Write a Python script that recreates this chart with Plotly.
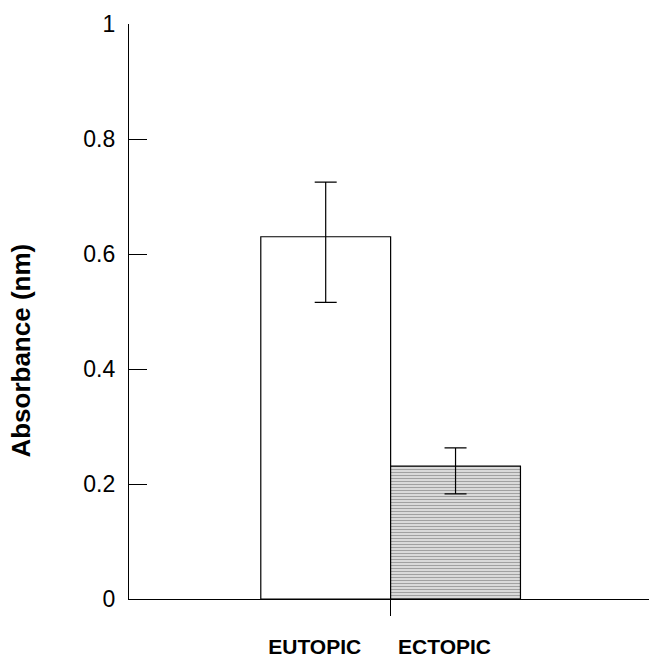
import plotly.graph_objects as go

categories = ["EUTOPIC", "ECTOPIC"]
means = [0.630, 0.231]
err_plus = [0.095, 0.032]
err_minus = [0.114, 0.048]
y_ticks = [0, 0.2, 0.4, 0.6, 0.8, 1]
y_tick_text = ["0", "0.2", "0.4", "0.6", "0.8", "1"]
y_title = "Absorbance (nm)"

xpos = list(range(len(categories)))

fig = go.Figure()
fig.add_trace(go.Bar(
    x=xpos, y=means, width=1,
    marker=dict(
        color=["white", "white"],
        line=dict(color="black", width=1.2),
        pattern=dict(shape=["", "-"], size=3, solidity=0.6,
                     fgcolor="#111111", bgcolor="white", fillmode="overlay"),
    ),
    error_y=dict(type="data", symmetric=False, array=err_plus, arrayminus=err_minus,
                 color="black", thickness=1.2, width=11),
    showlegend=False,
))
fig.add_trace(go.Scatter(x=[0.5], y=[0], xaxis="x2", mode="markers",
                         marker=dict(opacity=0), showlegend=False, hoverinfo="skip"))

xr = [-1.515, 2.49]
fig.update_layout(
    width=649, height=658,
    margin=dict(l=129, r=0, t=24, b=55),
    plot_bgcolor="white", paper_bgcolor="white",
    font=dict(family="Liberation Sans, Arial", color="black"),
    xaxis=dict(range=xr, tickvals=xpos, ticktext=["<b>%s</b>" % c for c in categories],
               ticks="", showgrid=False, zeroline=False, showline=True,
               linecolor="black", linewidth=1.2, tickfont=dict(size=21),
               ticklabelstandoff=29, ticklabelshift=-11),
    xaxis2=dict(range=xr, overlaying="x", side="bottom", tickvals=[0.5],
                ticks="outside", ticklen=16, tickwidth=1.2, tickcolor="black",
                showticklabels=False, showgrid=False, zeroline=False, showline=False),
    yaxis=dict(range=[0, 1], tickvals=y_ticks, ticktext=y_tick_text,
               ticks="inside", ticklen=18, tickwidth=1.2, tickcolor="black",
               showgrid=False, zeroline=False, showline=True, linecolor="black",
               linewidth=1.2, tickfont=dict(size=23), ticklabelstandoff=8),
    annotations=[dict(text="<b>%s</b>" % y_title, textangle=-90, xref="paper", yref="paper",
                      x=0, y=0.432, xshift=-108, xanchor="center", yanchor="middle",
                      showarrow=False, font=dict(size=26))],
)
fig.write_html("out.html")
